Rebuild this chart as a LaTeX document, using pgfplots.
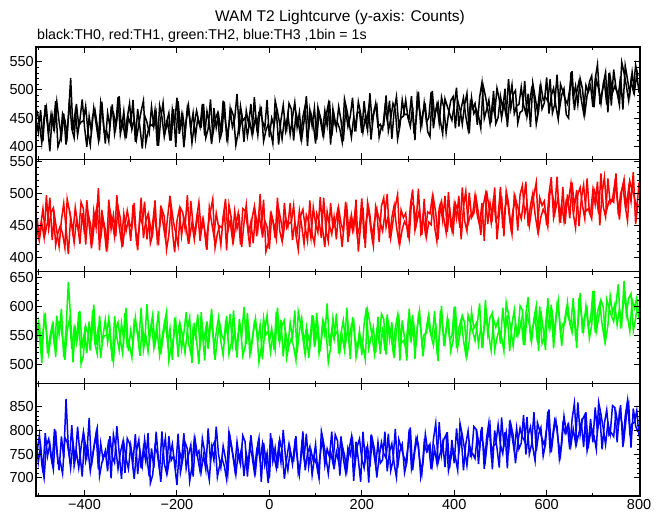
\documentclass[border=0pt]{standalone}
\usepackage{pgfplots}
\pgfplotsset{compat=1.18}
\usepackage{pgfplotstable}
\usepackage{fontspec}
\setmainfont{Liberation Sans}

\pgfplotstableread{
x a b c d
-505 448 462 538 781
-500 425 431 571 733
-495 464 449 527 768
-490 409 476 556 712
-485 473 438 589 794
-480 436 455 519 746
-475 391 493 547 771
-470 455 427 568 729
-465 432 466 531 803
-460 479 441 584 758
-455 444 417 552 716
-450 416 458 596 787
-445 458 484 513 742
-440 403 446 560 866
-435 450 405 642 764
-430 521 463 579 721
-425 428 439 504 775
-420 462 478 563 737
-415 420 452 545 808
-410 446 421 592 751
-405 483 469 528 703
-400 434 436 557 782
-395 399 489 520 749
-390 453 451 574 826
-385 425 414 541 726
-380 468 472 603 761
-375 440 447 534 794
-370 412 508 566 718
-365 477 429 511 773
-360 448 461 549 739
-355 405 443 577 757
-350 459 418 538 714
-345 435 474 562 788
-340 474 455 506 745
-335 422 432 583 732
-330 446 497 547 809
-325 489 448 525 752
-320 429 423 571 698
-315 462 468 542 774
-310 414 441 598 741
-305 451 459 523 719
-300 438 426 559 768
-295 482 482 536 735
-290 408 444 581 792
-285 466 411 549 708
-280 433 465 515 757
-275 396 452 568 726
-270 455 487 533 781
-265 443 428 604 744
-260 424 460 544 703
-255 470 437 571 762
-250 435 470 529 721
-245 458 446 556 797
-240 401 419 592 739
-235 449 481 518 692
-230 477 453 547 753
-225 427 429 575 784
-220 444 464 535 716
-215 410 496 562 747
-210 465 442 508 771
-205 439 408 581 728
-200 486 457 543 685
-195 422 475 569 759
-190 453 434 527 737
-185 398 462 554 794
-180 445 447 590 720
-175 472 421 537 748
-170 431 488 519 769
-165 459 450 563 703
-160 416 439 548 776
-155 450 471 586 742
-150 434 426 531 714
-145 475 459 559 783
-140 419 443 507 755
-135 462 412 574 726
-130 441 478 545 696
-125 404 455 596 764
-120 468 433 528 737
-115 433 469 555 808
-110 456 448 581 749
-105 425 419 540 722
-100 481 463 516 767
-95 443 491 569 741
-90 412 440 549 708
-85 466 457 587 785
-80 434 428 533 753
-75 449 472 561 719
-70 493 445 512 776
-65 426 461 578 738
-60 455 416 546 763
-55 408 453 599 704
-50 463 482 535 751
-45 439 437 565 729
-40 475 455 522 790
-35 427 422 553 744
-30 452 468 579 713
-25 420 444 541 766
-20 467 499 568 738
-15 445 431 509 771
-10 431 458 557 727
-5 482 447 585 752
0 416 413 539 699
5 450 466 562 784
10 436 451 526 746
15 464 429 591 721
20 403 476 548 767
25 446 457 577 733
30 473 435 514 801
35 429 462 556 742
40 457 448 531 716
45 421 485 572 758
50 451 427 545 729
55 478 454 593 773
60 434 438 520 745
65 460 473 558 708
70 413 449 580 769
75 444 421 536 740
80 489 466 563 793
85 430 455 511 724
90 458 430 547 758
95 440 478 584 736
100 405 452 540 771
105 469 439 566 709
110 448 494 523 750
115 424 445 573 782
120 463 416 550 727
125 437 471 605 761
130 481 450 532 744
135 418 436 560 797
140 455 463 543 718
145 432 428 588 755
150 470 476 519 733
155 446 453 554 787
160 409 441 576 741
165 464 487 537 712
170 435 424 565 763
175 453 459 510 748
180 486 442 582 779
185 426 468 547 725
190 459 434 528 766
195 461 447 558 782
200 424 492 516 740
205 480 428 570 721
210 441 460 598 766
215 468 473 528 690
220 412 441 546 791
225 454 418 564 758
230 476 480 520 726
235 435 467 582 775
240 439 454 518 731
245 430 441 565 738
250 468 468 524 797
255 446 499 586 714
260 481 430 543 755
265 413 462 573 772
270 463 481 511 730
275 488 448 558 701
280 437 425 582 781
285 451 474 537 764
290 453 462 541 748
295 482 469 529 731
300 450 431 571 766
305 435 480 546 806
310 470 506 585 716
315 411 442 510 758
320 489 458 565 783
325 464 475 592 740
330 439 435 536 710
335 477 491 552 774
340 443 433 554 756
345 451 455 585 767
350 496 451 549 718
355 432 492 533 781
360 464 470 571 815
365 477 428 506 732
370 445 484 592 753
375 422 457 565 775
380 484 496 537 723
385 471 440 579 796
390 458 477 543 720
395 446 445 549 780
400 473 483 599 731
405 504 461 528 804
410 435 496 563 754
415 467 428 578 789
420 486 478 542 716
425 453 503 517 771
430 430 452 585 799
435 479 466 571 746
440 467 468 557 751
445 476 497 541 741
450 438 465 571 791
455 487 450 605 762
460 513 485 529 807
465 449 426 564 719
470 465 504 585 784
475 482 479 549 817
480 442 454 524 750
485 498 492 578 768
490 440 458 564 771
495 451 465 577 812
500 489 510 536 770
505 467 446 598 751
510 502 478 555 796
515 434 491 585 720
520 484 459 523 821
525 509 436 570 788
530 458 498 594 756
535 472 485 549 805
540 474 472 553 761
545 505 460 576 773
550 473 487 534 832
555 458 518 588 749
560 493 449 616 790
565 434 481 546 807
570 512 500 564 765
575 487 467 582 736
580 462 444 538 816
585 500 493 600 799
590 466 481 536 783
595 477 488 547 769
600 522 450 589 804
605 458 499 564 844
610 490 525 603 754
615 503 461 528 796
620 471 477 583 821
625 448 494 610 778
630 510 454 554 748
635 497 510 570 812
640 484 452 572 794
645 475 498 607 809
650 502 461 571 760
655 533 517 555 823
660 464 478 593 857
665 496 505 528 774
670 515 449 614 795
675 482 491 587 817
680 459 513 559 765
685 508 472 601 838
690 496 476 565 762
695 508 467 576 824
700 470 505 626 775
705 519 483 555 848
710 545 518 590 798
715 481 450 605 833
720 497 500 569 760
725 514 525 544 815
730 474 474 612 843
735 530 488 598 790
740 472 490 584 795
745 536 486 574 787
750 504 531 604 837
755 489 467 638 808
760 524 499 562 853
765 465 512 597 765
770 543 480 618 830
775 518 457 582 863
780 493 519 557 796
785 531 506 611 814
790 497 493 597 817
795 528 475 615 842
800 495 517 578 787
}\lc

\pgfplotstableread{
x a b c d
-502.5 463 461 541 756
-497.5 439 428 572 790
-492.5 406 454 503 730
-487.5 451 431 581 700
-482.5 469 497 559 768
-477.5 423 445 520 782
-472.5 456 470 549 745
-467.5 434 477 567 718
-462.5 480 419 513 800
-457.5 399 438 574 731
-452.5 412 449 571 734
-447.5 458 437 545 709
-442.5 447 415 508 785
-437.5 420 491 558 775
-432.5 483 472 578 743
-427.5 431 449 527 811
-422.5 415 423 563 725
-417.5 475 458 539 755
-412.5 436 440 590 721
-407.5 443 486 501 764
-402.5 445 476 515 796
-397.5 471 420 566 736
-392.5 425 469 554 760
-387.5 402 453 524 714
-382.5 454 427 593 748
-377.5 465 462 536 778
-372.5 437 482 518 803
-367.5 416 411 584 704
-362.5 479 474 541 732
-357.5 426 446 549 748
-352.5 428 409 551 744
-347.5 409 490 580 781
-342.5 467 444 529 699
-337.5 460 466 504 791
-332.5 435 433 561 765
-327.5 487 479 573 719
-322.5 421 461 542 753
-317.5 444 416 519 774
-312.5 418 449 589 710
-307.5 451 473 530 783
-302.5 476 453 533 772
-297.5 430 446 512 741
-292.5 448 485 576 698
-287.5 413 425 568 757
-282.5 439 441 540 780
-277.5 462 493 598 720
-272.5 481 430 525 763
-267.5 405 457 550 735
-262.5 427 468 522 794
-257.5 439 422 558 689
-252.5 436 436 585 706
-247.5 464 489 535 766
-242.5 401 426 555 752
-237.5 472 447 516 716
-232.5 452 475 545 798
-227.5 417 464 570 731
-222.5 443 412 591 710
-217.5 459 435 507 788
-212.5 410 481 531 737
-207.5 466 455 545 746
-202.5 399 438 574 724
-197.5 480 419 513 793
-192.5 434 477 567 711
-187.5 456 470 549 738
-182.5 423 445 520 775
-177.5 469 497 559 761
-172.5 451 431 581 693
-167.5 406 454 503 723
-162.5 439 428 572 783
-157.5 463 461 541 749
-152.5 443 486 501 757
-147.5 436 440 590 714
-142.5 475 458 539 748
-137.5 415 423 563 718
-132.5 431 449 527 804
-127.5 483 472 578 736
-122.5 420 491 558 768
-117.5 447 415 508 778
-112.5 458 437 545 702
-107.5 412 449 571 727
-102.5 426 446 549 741
-97.5 479 474 541 725
-92.5 416 411 584 697
-87.5 437 482 518 796
-82.5 465 462 536 771
-77.5 454 427 593 741
-72.5 402 453 524 707
-67.5 425 469 554 753
-62.5 471 420 566 729
-57.5 445 476 515 789
-52.5 451 473 530 776
-47.5 418 449 589 703
-42.5 444 416 519 767
-37.5 421 461 542 746
-32.5 487 479 573 712
-27.5 435 433 561 758
-22.5 460 466 504 784
-17.5 467 444 529 692
-12.5 409 490 580 774
-7.5 428 409 551 737
-2.5 439 422 558 689
2.5 427 468 522 794
7.5 405 457 550 735
12.5 481 430 525 763
17.5 462 493 598 720
22.5 439 441 540 780
27.5 413 425 568 757
32.5 448 485 576 698
37.5 430 446 512 741
42.5 476 453 533 772
47.5 466 455 545 746
52.5 410 481 531 737
57.5 459 435 507 788
62.5 443 412 591 710
67.5 417 464 570 731
72.5 452 475 545 798
77.5 472 447 516 716
82.5 401 426 555 752
87.5 464 489 535 766
92.5 436 436 585 706
97.5 468 422 530 743
102.5 412 468 589 727
107.5 461 457 519 699
112.5 445 430 542 798
117.5 419 493 573 773
122.5 454 441 561 743
127.5 474 425 504 709
132.5 403 485 529 755
137.5 466 446 580 731
142.5 438 453 551 791
147.5 442 473 558 778
152.5 430 449 522 705
157.5 408 416 550 769
162.5 484 461 525 748
167.5 465 479 598 714
172.5 442 433 540 760
177.5 416 466 568 786
182.5 451 444 576 694
187.5 433 490 512 776
192.5 479 409 533 739
197.5 458 450 547 692
202.5 425 478 533 797
207.5 451 415 509 738
212.5 428 486 593 766
217.5 494 466 572 723
222.5 442 431 547 783
227.5 467 457 518 760
232.5 474 473 557 701
237.5 416 424 537 744
242.5 435 480 587 775
247.5 437 493 578 751
252.5 490 447 517 742
257.5 427 465 571 793
262.5 448 430 553 715
267.5 476 456 524 736
272.5 465 479 563 803
277.5 413 498 585 721
282.5 436 422 507 757
287.5 482 444 576 771
292.5 456 456 545 711
297.5 457 448 507 733
302.5 450 429 596 802
307.5 489 487 545 720
312.5 429 480 569 747
317.5 445 455 533 784
322.5 497 507 584 770
327.5 434 441 564 702
332.5 461 464 514 732
337.5 472 438 551 792
342.5 426 471 577 758
347.5 417 468 557 770
352.5 498 494 549 727
357.5 452 448 592 761
362.5 474 425 526 731
367.5 441 477 544 817
372.5 487 488 601 749
377.5 469 460 532 781
382.5 424 439 562 791
387.5 457 502 574 715
392.5 481 449 523 740
397.5 488 438 541 760
402.5 432 484 600 744
407.5 481 473 530 716
412.5 465 446 553 815
417.5 439 509 584 790
422.5 474 457 572 760
427.5 494 441 515 726
432.5 423 501 540 772
437.5 486 462 591 748
442.5 458 469 562 808
447.5 466 492 571 802
452.5 454 468 535 729
457.5 432 435 563 793
462.5 508 480 538 772
467.5 489 498 611 738
472.5 466 452 553 784
477.5 440 485 581 810
482.5 475 463 589 718
487.5 457 509 525 800
492.5 503 428 546 763
497.5 483 468 561 722
502.5 450 496 547 827
507.5 476 433 523 768
512.5 453 504 607 796
517.5 519 484 586 753
522.5 467 449 561 813
527.5 492 475 532 790
532.5 499 491 571 731
537.5 441 442 551 774
542.5 460 498 601 805
547.5 463 512 594 786
552.5 516 466 533 777
557.5 453 484 587 828
562.5 474 449 569 750
567.5 502 475 540 771
572.5 491 498 579 838
577.5 439 517 601 756
582.5 462 441 523 792
587.5 508 463 592 806
592.5 482 475 561 746
597.5 487 467 525 771
602.5 480 448 614 840
607.5 519 506 563 758
612.5 459 499 587 785
617.5 475 474 551 822
622.5 527 526 602 808
627.5 464 460 582 740
632.5 491 483 532 770
637.5 502 457 569 830
642.5 456 490 595 796
647.5 450 489 579 812
652.5 531 515 571 769
657.5 485 469 614 803
662.5 507 446 548 773
667.5 474 498 566 859
672.5 520 509 623 791
677.5 502 481 554 823
682.5 457 460 584 833
687.5 490 523 596 757
692.5 514 470 545 782
697.5 525 460 568 804
702.5 469 506 627 788
707.5 518 495 557 760
712.5 502 468 580 859
717.5 476 531 611 834
722.5 511 479 599 804
727.5 531 463 542 770
732.5 460 523 567 816
737.5 523 484 618 792
742.5 495 491 589 852
747.5 507 516 604 848
752.5 495 492 568 775
757.5 473 459 596 839
762.5 549 504 571 818
767.5 530 522 644 784
772.5 507 476 586 830
777.5 481 509 614 856
782.5 516 487 622 764
787.5 498 533 558 846
792.5 544 452 579 809
797.5 525 483 612 797
}\lcb

\pgfplotsset{
  panel/.style={
    scale only axis, width=604pt, height=112.25pt,
    xmin=-505, xmax=802,
    xtick={-400,-200,0,200,400,600,800},
    minor xtick={-500,-300,-100,100,300,500,700},
    xticklabels={},
    minor y tick num=4,
    tick align=inside,
    xtick pos=both, ytick pos=both,
    major tick length=6pt, minor tick length=3pt,
    every tick/.style={black, line width=0.9pt},
    axis line style={line width=1.1pt},
    tick label style={font=\fontsize{14.5}{14.5}\selectfont},
    /pgf/number format/assume math mode=true,
    yticklabel style={inner sep=1pt, xshift=-1pt},
    axis on top,
    anchor=north west,
  },
  dl/.style={line width=1.5pt},
}

\begin{document}
\begin{tikzpicture}
\path[use as bounding box] (-36pt,-468pt) rectangle (629pt,47pt);
\node[anchor=base, font=\fontsize{15.5}{15.5}\selectfont] at (304pt,26pt) {WAM T2 Lightcurve (y-axis: Counts)};
\node[anchor=base west, inner sep=0pt, font=\fontsize{14.2}{14.2}\selectfont] at (1pt,8pt) {black:TH0, red:TH1, green:TH2, blue:TH3 ,1bin = 1s};

\begin{axis}[panel, at={(0pt,0pt)}, ymin=377, ymax=576, ytick={400,450,500,550}]
\addplot[black, dl] table[x=x, y=a]{\lc};
\addplot[black, dl] table[x=x, y=a]{\lcb};
\end{axis}

\begin{axis}[panel, at={(0pt,-112.25pt)}, ymin=378, ymax=553, ytick={400,450,500,550}]
\addplot[red, dl] table[x=x, y=b]{\lc};
\addplot[red, dl] table[x=x, y=b]{\lcb};
\end{axis}

\begin{axis}[panel, at={(0pt,-224.5pt)}, ymin=467, ymax=660, ytick={500,550,600,650}]
\addplot[green, dl] table[x=x, y=c]{\lc};
\addplot[green, dl] table[x=x, y=c]{\lcb};
\end{axis}

\begin{axis}[panel, at={(0pt,-336.75pt)}, ymin=662, ymax=898, ytick={700,750,800,850},
  xticklabels={−400,−200,0,200,400,600,800}]
\addplot[blue, dl] table[x=x, y=d]{\lc};
\addplot[blue, dl] table[x=x, y=d]{\lcb};
\end{axis}
\end{tikzpicture}
\end{document}
